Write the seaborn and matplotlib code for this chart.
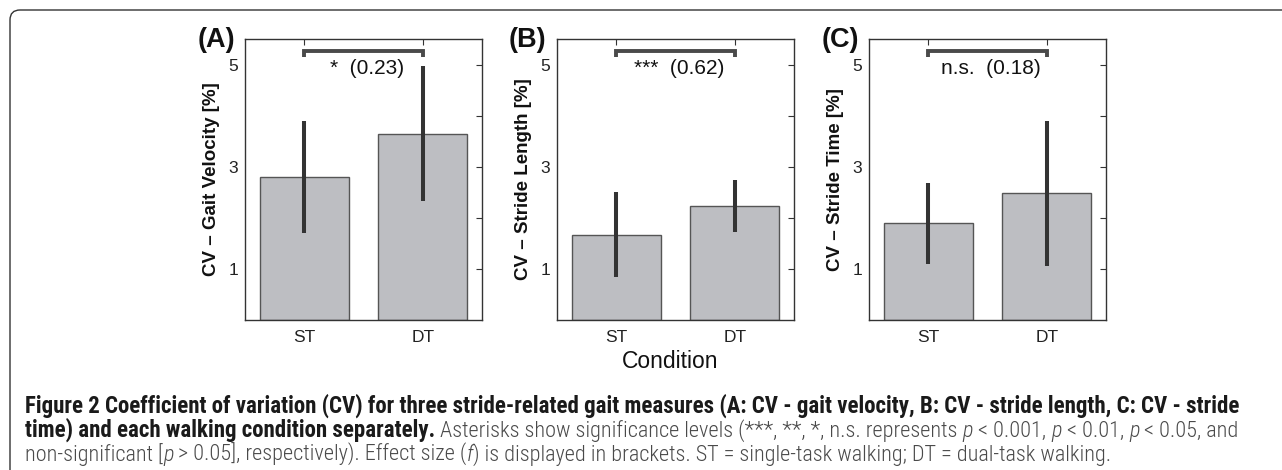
import numpy as np
import pandas as pd
import matplotlib
matplotlib.use('Agg')
import matplotlib.pyplot as plt
import matplotlib.patches as mpatches
from matplotlib.transforms import IdentityTransform
from matplotlib import font_manager
import seaborn as sns

sns.set_theme(style='white')
plt.rcParams['font.family'] = ['Liberation Sans', 'DejaVu Sans']

# data
conditions = ['ST', 'DT']
panel_tags = ['(A)', '(B)', '(C)']
ylabels = ['CV \u2013 Gait Velocity [%]', 'CV \u2013 Stride Length [%]', 'CV \u2013 Stride Time [%]']
gait_velocity = [2.80, 3.65]
gait_velocity_sd = [1.09, 1.32]
stride_length = [1.67, 2.24]
stride_length_sd = [0.83, 0.51]
stride_time = [1.89, 2.48]
stride_time_sd = [0.80, 1.42]
sig_labels = ['*', '***', 'n.s.']
effect_sizes = ['(0.23)', '(0.62)', '(0.18)']

means = [gait_velocity, stride_length, stride_time]
sds = [gait_velocity_sd, stride_length_sd, stride_time_sd]

W, H = 1282, 470
fig = plt.figure(figsize=(W / 100, H / 100), dpi=100)
fig.patch.set_facecolor('white')

lefts = [245, 557, 869]
tag_right = [235, 546, 859]

for i in range(3):
    ax = fig.add_axes([lefts[i] / W, 150 / H, 237 / W, 281 / H])
    df = pd.DataFrame({'condition': conditions, 'cv': means[i]})
    sns.barplot(data=df, x='condition', y='cv', color='#bdbec2', saturation=1,
                width=0.75, edgecolor='#555555', linewidth=1, errorbar=None, ax=ax)
    m = np.array(means[i])
    s = np.array(sds[i])
    ax.vlines(range(len(conditions)), m - s, m + s, color='#333333', lw=2.9)
    ax.set_xlim(-0.5, 1.5)
    ax.set_ylim(0, 5.5)
    ax.set_yticks([1, 2, 3, 4, 5], ['1', '', '3', '', '5'])
    ax.tick_params(direction='in', top=True, right=True, length=4, width=0.8,
                   color='#333333', labelsize=12.5, labelcolor='#222222')
    ax.tick_params(axis='x', pad=7)
    ax.tick_params(axis='y', pad=5)
    for sp in ax.spines.values():
        sp.set_color('#333333')
        sp.set_linewidth(1)
    ax.set_xlabel('')
    ax.set_ylabel(ylabels[i], fontsize=13.5, fontweight='bold', labelpad=6, color='#111111')

    # significance bracket
    ax.plot([0, 0, 1, 1], [5.14, 5.27, 5.27, 5.14], color='#4a4a4a', lw=2.8,
            clip_on=False, solid_capstyle='butt', solid_joinstyle='miter')
    ax.text(0.53, 4.92, sig_labels[i] + '  ' + effect_sizes[i], ha='center', va='center',
            fontsize=15, color='#111111')

    fig.text(tag_right[i] / W, 1 - 40 / H, panel_tags[i], ha='right', va='center',
             fontsize=19.5, fontweight='bold', color='#111111')

fig.text(670 / W, 1 - 362 / H, 'Condition', ha='center', va='center', fontsize=16.5,
         color='#111111')

# frame around figure + caption
frame = mpatches.FancyBboxPatch((10, -30), 1300, 490, boxstyle='round,pad=0,rounding_size=10',
                                transform=IdentityTransform(), fill=False, ec='#333333', lw=1)
fig.add_artist(frame)

names = {f.name for f in font_manager.fontManager.ttflist}
cap_font = next((n for n in ['Liberation Sans Narrow', 'Roboto Condensed', 'Open Sans Condensed',
                             'Lato'] if n in names), 'DejaVu Sans')
r = fig.canvas.get_renderer()


def text_w(s, fs, **kw):
    t = fig.text(0, 0, s, fontsize=fs, family=cap_font, **kw)
    w = t.get_window_extent(r).width
    t.remove()
    return w


BOLD = {'fontweight': 'bold', 'color': '#1a1a1a'}
REG = {'fontweight': 'light', 'color': '#4a4a4a'}
ITAL = {'fontweight': 'light', 'style': 'italic', 'color': '#4a4a4a'}

line1 = [('Figure 2 Coefficient of variation (CV) for three stride-related gait measures '
          '(A: CV - gait velocity, B: CV - stride length, C: CV - stride', BOLD)]
line2 = [('time) and each walking condition separately.', BOLD),
         (' Asterisks show significance levels (***, **, *, n.s. represents ', REG),
         ('p', ITAL), (' < 0.001, ', REG), ('p', ITAL), (' < 0.01, ', REG),
         ('p', ITAL), (' < 0.05, and', REG)]
line3 = [('non-significant [', REG), ('p', ITAL),
         (' > 0.05], respectively). Effect size (', REG), ('f', ITAL),
         (') is displayed in brackets. ST = single-task walking; DT = dual-task walking.', REG)]

bold_size = 10 * 1217 / text_w(line1[0][0], 10, **BOLD)
reg_size = 10 * 1090 / text_w(''.join(s for s, _ in line3), 10, **REG)


def write_runs(y_px, runs):
    x = 25
    for s, style in runs:
        fs = bold_size if style is BOLD else reg_size
        sp = text_w('i i', fs, **style) - text_w('ii', fs, **style)
        ls = len(s) - len(s.lstrip(' '))
        ts = len(s) - len(s.rstrip(' '))
        x += ls * sp
        t = fig.text(x / W, 1 - y_px / H, s.strip(' '), fontsize=fs, family=cap_font,
                     va='baseline', **style)
        x = t.get_window_extent(r).x1 + ts * sp


write_runs(413, line1)
write_runs(437, line2)
write_runs(461, line3)

fig.savefig('out.png', dpi=100)
